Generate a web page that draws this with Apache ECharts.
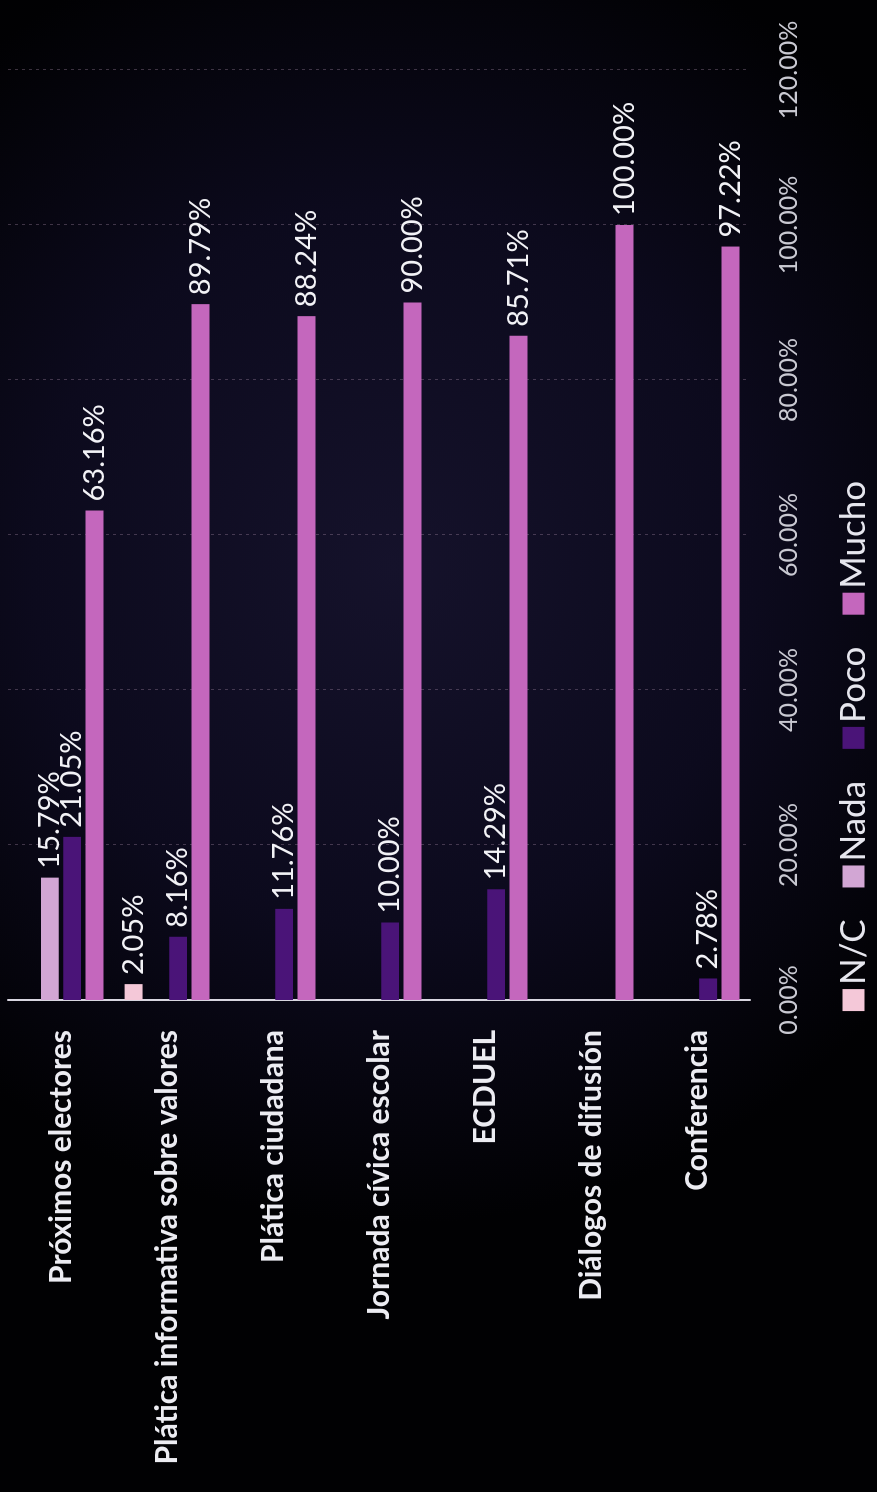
<!DOCTYPE html>
<html>
<head>
<meta charset="utf-8">
<script src="https://cdn.jsdelivr.net/npm/echarts@6/dist/echarts.min.js"></script>
<style>
  html, body { margin: 0; padding: 0; background: #000; }
  #wrap { position: absolute; left: 0; top: 0; width: 877px; height: 1492px; overflow: hidden; background: #000; }
  #chart { position: absolute; left: 0; top: 0; width: 1492px; height: 877px;
           transform-origin: 0 0; transform: translate(0, 1492px) rotate(-90deg); }
</style>
</head>
<body>
<div id="wrap"><div id="chart"></div></div>
<script>
const categories = ['Próximos electores', 'Plática informativa sobre valores', 'Plática ciudadana',
  'Jornada cívica escolar', 'ECDUEL', 'Diálogos de difusión', 'Conferencia'];
const seriesNames = ['N/C', 'Nada', 'Poco', 'Mucho'];
const nc    = [null, 2.05, null, null, null, null, null];
const nada  = [15.79, null, null, null, null, null, null];
const poco  = [21.05, 8.16, 11.76, 10.00, 14.29, null, 2.78];
const mucho = [63.16, 89.79, 88.24, 90.00, 85.71, 100.00, 97.22];
const colors = ['#f4c8d8', '#d2a6d4', '#4a1478', '#c467bd'];
const seriesData = [nc, nada, poco, mucho];

const chart = echarts.init(document.getElementById('chart'), null, { renderer: 'canvas' });
const font = 'Lato, "Noto Sans", sans-serif';
chart.setOption({
  backgroundColor: {
    type: 'radial', x: 0.62, y: 0.45, r: 0.75,
    colorStops: [
      { offset: 0, color: '#15122b' },
      { offset: 0.55, color: '#0c0a1d' },
      { offset: 1, color: '#010103' }
    ]
  },
  animation: false,
  textStyle: { fontFamily: font },
  legend: {
    data: seriesNames,
    left: 'center',
    top: 831,
    itemWidth: 22, itemHeight: 22, itemGap: 32,
    icon: 'rect',
    textStyle: { color: '#e6e6ee', fontSize: 35, fontFamily: font, padding: [0, 0, 0, -1] }
  },
  grid: { left: 492, right: 70, top: 8, bottom: 127 },
  xAxis: {
    type: 'value', min: 0, max: 120, interval: 20,
    axisLine: { show: false }, axisTick: { show: false },
    axisLabel: { color: '#c9c9d2', fontSize: 25, margin: 26, fontFamily: font,
      formatter: v => v.toFixed(2) + '%' },
    splitLine: { show: true, lineStyle: { color: 'rgba(170,140,170,0.35)', type: [3, 4], width: 1 } }
  },
  yAxis: {
    type: 'category', data: categories, inverse: true,
    axisLine: { show: true, lineStyle: { color: '#d8d6e0', width: 2 } },
    axisTick: { show: false },
    axisLabel: { color: '#ececf2', fontSize: 30, fontWeight: 'bold', margin: 30, fontFamily: font }
  },
  series: seriesNames.map((name, i) => ({
    name, type: 'bar', data: seriesData[i],
    barGap: '24%', barCategoryGap: '20%',
    itemStyle: { color: colors[i] },
    label: { show: true, position: 'right', distance: 9, color: '#f2f2f6', fontSize: 29, fontFamily: font,
      formatter: p => (p.value == null ? '' : p.value.toFixed(2) + '%') }
  }))
});
</script>
</body>
</html>
